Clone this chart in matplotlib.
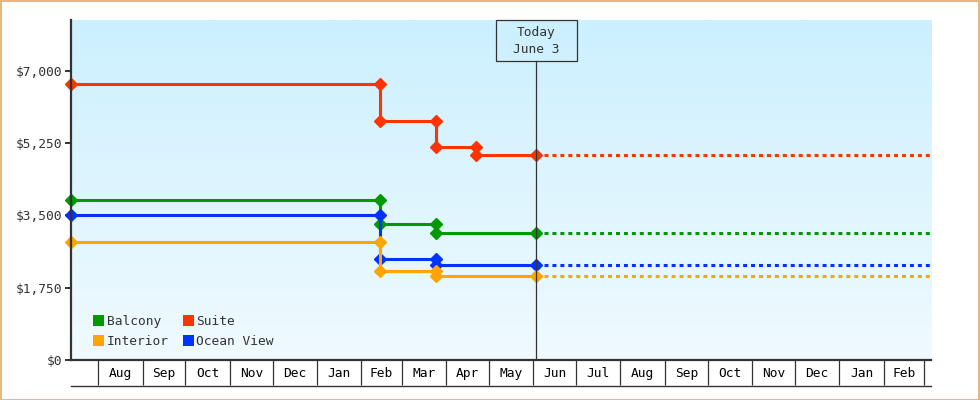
import matplotlib
matplotlib.use("Agg")
import matplotlib.pyplot as plt
import matplotlib.dates as mdates
import matplotlib.transforms as mtransforms
from matplotlib.patches import Rectangle, Patch
from matplotlib.colors import LinearSegmentedColormap
import numpy as np
import datetime as dt

# ---- data ----
# Axis runs Jul 2013 -> Mar 2015 (two non-leap Februaries)
start_date = dt.date(2013, 7, 13)
end_date = dt.date(2015, 3, 6)
today = dt.date(2014, 6, 3)
today_label = "Today\nJune 3"

series_names = ["Balcony", "Interior", "Suite", "Ocean View"]
series_colors = ["#009900", "#ffa500", "#ff3300", "#0033ff"]
change_dates = {
    "Balcony":    [dt.date(2014, 2, 14), dt.date(2014, 3, 25)],
    "Interior":   [dt.date(2014, 2, 14), dt.date(2014, 3, 25)],
    "Suite":      [dt.date(2014, 2, 14), dt.date(2014, 3, 25), dt.date(2014, 4, 22)],
    "Ocean View": [dt.date(2014, 2, 14), dt.date(2014, 3, 25)],
}
prices = {
    "Balcony":    [3867, 3293, 3075],
    "Interior":   [2857, 2148, 2027],
    "Suite":      [6676, 5780, 5157, 4956],
    "Ocean View": [3511, 2446, 2293],
}
draw_order = ["Suite", "Balcony", "Ocean View", "Interior"]

y_ticks = [0, 1750, 3500, 5250, 7000]
y_max = 8230
month_labels = ["Aug", "Sep", "Oct", "Nov", "Dec", "Jan", "Feb", "Mar", "Apr",
                "May", "Jun", "Jul", "Aug", "Sep", "Oct", "Nov", "Dec", "Jan", "Feb"]

# ---- figure ----
W, H, DPI = 980, 400, 100
fig = plt.figure(figsize=(W / DPI, H / DPI), dpi=DPI)
fig.patch.set_facecolor("white")
fig.add_artist(Rectangle((0.5 / W, 0.5 / H), 1 - 1.5 / W, 1 - 1.5 / H,
                         transform=fig.transFigure, fill=False,
                         edgecolor="#e8a860", linewidth=1.2))

L, R, T, B = 71, 931, 20, 360
ax = fig.add_axes([L / W, 1 - B / H, (R - L) / W, (B - T) / H])
ax.set_facecolor("none")

FONT = "DejaVu Sans Mono"
FS = 9.3
TXT = "#333333"

# gradient background
cmap = LinearSegmentedColormap.from_list("bg", ["#ccf0fe", "#f0faff"])
grad = np.linspace(0, 1, 256).reshape(-1, 1)
ax.imshow(grad, aspect="auto", cmap=cmap, extent=[0, 1, 0, 1],
          transform=ax.transAxes, zorder=0, interpolation="bilinear")

x0 = mdates.date2num(start_date)
x1 = mdates.date2num(end_date)
xt = mdates.date2num(today)
ax.set_xlim(x0, x1)
ax.set_ylim(0, y_max)

# series
for name in draw_order:
    col = series_colors[series_names.index(name)]
    ds = [mdates.date2num(d) for d in change_dates[name]]
    vals = prices[name]
    xs, ys = [x0], [vals[0]]
    for d, v_prev, v_new in zip(ds, vals[:-1], vals[1:]):
        xs += [d, d]
        ys += [v_prev, v_new]
    xs.append(xt)
    ys.append(vals[-1])
    ax.plot(xs, ys, color=col, lw=2.2, marker="D", ms=6, mec=col, mfc=col,
            zorder=4, clip_on=False, solid_joinstyle="miter")
    ax.plot([xt + 5.5, x1], [vals[-1], vals[-1]], color=col, lw=2.2,
            dashes=(1.3, 1.3), dash_capstyle="butt", zorder=3, clip_on=False)

# today line and box
box_h_px, box_w_px = 41, 81
ax.axvline(xt, ymin=0, ymax=1 - box_h_px / (B - T), color="#333333", lw=0.9, zorder=5)
blend = mtransforms.blended_transform_factory(ax.transData, ax.transAxes)
anchor = fig.dpi_scale_trans + mtransforms.ScaledTranslation(xt, 1.0, blend)
ax.add_artist(Rectangle((-box_w_px / 2 / DPI, -box_h_px / DPI), box_w_px / DPI, box_h_px / DPI,
                        transform=anchor, facecolor="none", edgecolor="#333333",
                        lw=0.9, clip_on=False, zorder=6))
l1, l2 = today_label.split("\n")
fig.text(0, -12.5 / DPI, l1, transform=anchor, ha="center", va="center",
         family=FONT, fontsize=FS, color=TXT)
fig.text(0, -29.5 / DPI, l2, transform=anchor, ha="center", va="center",
         family=FONT, fontsize=FS, color=TXT)

# spines
for s in ["top", "right"]:
    ax.spines[s].set_visible(False)
for s in ["left", "bottom"]:
    ax.spines[s].set_color("#333333")
    ax.spines[s].set_linewidth(1.6)
    ax.spines[s].set_zorder(7)

# y ticks
ax.set_yticks(y_ticks)
ax.set_yticklabels(["${:,}".format(v) for v in y_ticks], family=FONT, fontsize=FS, color=TXT)
ax.tick_params(axis="y", direction="out", length=4.5, width=1.4, color="#333333", pad=1.5)

# x ticks: month boundaries
month_starts = []
d = dt.date(start_date.year, start_date.month, 1)
while True:
    d = dt.date(d.year + (d.month // 12), d.month % 12 + 1, 1)
    if d > end_date:
        break
    month_starts.append(d)
ms_num = [mdates.date2num(m) for m in month_starts]
ax.set_xticks(ms_num)
ax.set_xticklabels([])
ax.tick_params(axis="x", direction="out", length=25 * 72 / DPI, width=0.9, color="#333333")

for a, b, lab in zip(ms_num[:-1], ms_num[1:], month_labels):
    ax.text((a + b) / 2, -13.5 / (B - T), lab, transform=blend, ha="center", va="center",
            family=FONT, fontsize=FS, color="black", clip_on=False)
ax.plot([0, 1], [-25.5 / (B - T)] * 2, transform=ax.transAxes, color="#333333",
        lw=1.0, clip_on=False)

# legend
handles = [Patch(facecolor=c, edgecolor="none") for c in series_colors]
leg = ax.legend(handles, series_names, ncol=2, loc="lower left",
                bbox_to_anchor=(22 / (R - L), 12 / (B - T)), frameon=False,
                prop={"family": FONT, "size": FS}, handlelength=0.86, handleheight=0.86,
                handletextpad=0.22, columnspacing=1.05, labelspacing=0.55,
                borderpad=0, borderaxespad=0)
for t in leg.get_texts():
    t.set_color(TXT)

fig.savefig("out.png", dpi=DPI)
